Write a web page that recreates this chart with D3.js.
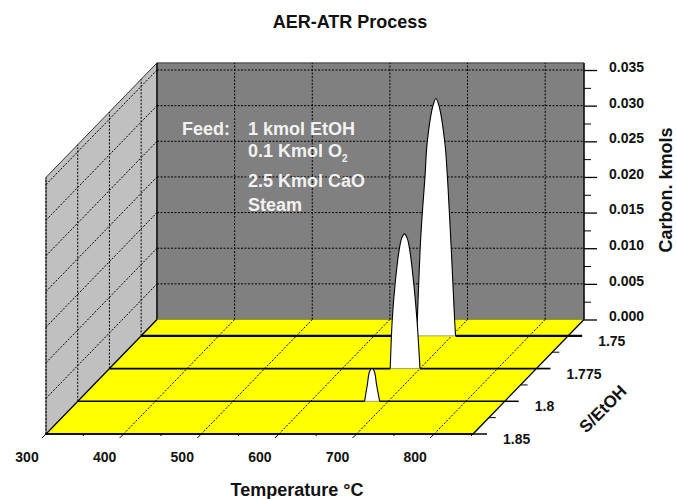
<!DOCTYPE html>
<html>
<head>
<meta charset="utf-8">
<script src="https://cdn.jsdelivr.net/npm/d3@7"></script>
<style>
body { margin: 0; background: #fff; }
text { font-family: "Liberation Sans", Arial, sans-serif; font-weight: bold; fill: #111; }
</style>
</head>
<body>
<script>
// data
const rows = ["1.85", "1.8", "1.775", "1.75"];
const tempTicks = [300, 400, 500, 600, 700, 800];
const tempMinor = [350, 450, 550, 650, 750, 850];
const carbonTicks = [0, 0.005, 0.01, 0.015, 0.02, 0.025, 0.03, 0.035];
const carbonMinor = [0.0025, 0.0075, 0.0125, 0.0175, 0.0225, 0.0275, 0.0325];

const temps175 = [300, 654.8, 655.7, 659.4, 662.2, 665.6, 668.6, 675.9, 679.7, 683.6, 691, 694.5, 697, 699.4, 703.8, 705, 850];
const carbon175 = [0, 0, 0.0022, 0.0123, 0.0173, 0.0223, 0.0273, 0.0323, 0.0333, 0.0323, 0.0273, 0.0223, 0.0173, 0.0123, 0.0022, 0, 0];

const temps1775 = [300, 661.7, 664.3, 668, 673, 676.5, 680, 683.5, 687, 692, 696.1, 700, 850];
const carbon1775 = [0, 0, 0.0069, 0.0119, 0.0165, 0.0183, 0.0189, 0.0183, 0.0165, 0.0119, 0.0069, 0, 0];

const temps18 = [300, 669.5, 673, 676, 679, 682, 685, 688.9, 850];
const carbon18 = [0, 0, 0.0023, 0.0042, 0.0046, 0.0042, 0.0023, 0, 0];

const temps185 = [300, 850];
const carbon185 = [0, 0];

const series = [
  { row: 3, t: temps175, c: carbon175, w: 2.2 },
  { row: 2, t: temps1775, c: carbon1775, w: 1.7 },
  { row: 1, t: temps18, c: carbon18, w: 1.5 },
  { row: 0, t: temps185, c: carbon185, w: 1.5 }
];

const svg = d3.select("body").append("svg").attr("width", 676).attr("height", 499);

const x = d3.scaleLinear().domain([300, 850]).range([46, 473]);
const y = d3.scaleLinear().domain([0, 0.036]).range([434, 177.4]);
const depthX = d3.scaleLinear().domain([0, 3.5]).range([0, 111]);
const depthY = d3.scaleLinear().domain([0, 3.5]).range([0, -114.5]);

const px = (t, r) => x(t) + depthX(r);
const py = (v, r) => y(v) + depthY(r);
const tmin = 300, tmax = 850, cmax = 0.036, rmax = 3.5;

const poly = pts => "M" + pts.map(p => p.join(",")).join("L") + "Z";

// walls and floor
svg.append("path")
  .attr("d", poly([[px(tmin, 0), py(0, 0)], [px(tmin, rmax), py(0, rmax)], [px(tmin, rmax), py(cmax, rmax)], [px(tmin, 0), py(cmax, 0)]]))
  .style("fill", "#c0c0c0").style("stroke", "#333").style("stroke-width", 1);
svg.append("path")
  .attr("d", poly([[px(tmin, rmax), py(0, rmax)], [px(tmax, rmax), py(0, rmax)], [px(tmax, rmax), py(cmax, rmax)], [px(tmin, rmax), py(cmax, rmax)]]))
  .style("fill", "#808080").style("stroke", "#333").style("stroke-width", 1);
svg.append("path")
  .attr("d", poly([[px(tmin, 0), py(0, 0)], [px(tmax, 0), py(0, 0)], [px(tmax, rmax), py(0, rmax)], [px(tmin, rmax), py(0, rmax)]]))
  .style("fill", "#ffff00");

// dashed grid
const grid = svg.append("g").style("stroke", "#000").style("stroke-width", 1).style("stroke-dasharray", "2,1.5").style("fill", "none");
const seg = (a, b) => grid.append("line").attr("x1", a[0]).attr("y1", a[1]).attr("x2", b[0]).attr("y2", b[1]);

tempTicks.slice(1).forEach(t => {
  seg([px(t, 0), py(0, 0)], [px(t, rmax), py(0, rmax)]);
  seg([px(t, rmax), py(0, rmax)], [px(t, rmax), py(cmax, rmax)]);
});
carbonTicks.slice(1).forEach(c => {
  seg([px(tmin, 0), py(c, 0)], [px(tmin, rmax), py(c, rmax)]);
  seg([px(tmin, rmax), py(c, rmax)], [px(tmax, rmax), py(c, rmax)]);
});
rows.forEach((r, i) => {
  seg([px(tmin, i), py(0, i)], [px(tmin, i), py(cmax, i)]);
});

// back to front so the nearer peaks cover the far ones
series.forEach(s => {
  const pts = s.t.map((t, i) => [px(t, s.row), py(s.c[i], s.row)]);
  const g = svg.append("g");
  const line = d3.line().curve(d3.curveCatmullRom.alpha(0.5));
  // flat ends are straight, only the peak itself gets the curve
  const peak = pts.slice(1, pts.length - 1);
  if (peak.length) {
    g.append("path").attr("d", line(peak) + "Z").style("fill", "#fff").style("stroke", "none");
    g.append("path").attr("d", line(peak)).style("fill", "none").style("stroke", "#000").style("stroke-width", 1.1);
    g.append("line")
      .attr("x1", peak[0][0]).attr("y1", peak[0][1]).attr("x2", peak[peak.length - 1][0]).attr("y2", peak[0][1])
      .style("stroke", "#777").style("stroke-width", 0.7);
    g.append("line")
      .attr("x1", pts[0][0]).attr("y1", pts[0][1]).attr("x2", peak[0][0]).attr("y2", peak[0][1])
      .style("stroke", "#000").style("stroke-width", s.w);
    g.append("line")
      .attr("x1", peak[peak.length - 1][0]).attr("y1", peak[0][1]).attr("x2", pts[pts.length - 1][0]).attr("y2", peak[0][1])
      .style("stroke", "#000").style("stroke-width", s.w);
  } else {
    g.append("path").attr("d", d3.line()(pts)).style("fill", "none").style("stroke", "#000").style("stroke-width", s.w);
  }
  // row tick runs on past the floor
  g.append("line")
    .attr("x1", px(tmax, s.row)).attr("y1", py(0, s.row))
    .attr("x2", px(tmax, s.row) + 14).attr("y2", py(0, s.row))
    .style("stroke", "#000").style("stroke-width", s.w);
  g.append("text")
    .attr("x", px(tmax, s.row) + 30).attr("y", py(0, s.row) + 10)
    .style("font-size", "14px")
    .text(rows[s.row]);
});

// floor edges
svg.append("path")
  .attr("d", "M" + [px(tmin, rmax), py(0, rmax)] + "L" + [px(tmin, 0), py(0, 0)] + "L" + [px(tmax, 0), py(0, 0)] + "L" + [px(tmax, rmax), py(0, rmax)])
  .style("fill", "none").style("stroke", "#000").style("stroke-width", 1.3);
svg.append("line")
  .attr("x1", px(tmin, rmax)).attr("y1", py(0, rmax)).attr("x2", px(tmin, rmax)).attr("y2", py(cmax, rmax))
  .style("stroke", "#000").style("stroke-width", 1);

// minor ticks on the depth axis
[0.5, 1.5, 2.5].forEach(r => {
  svg.append("line")
    .attr("x1", px(tmax, r)).attr("y1", py(0, r)).attr("x2", px(tmax, r) + 7).attr("y2", py(0, r))
    .style("stroke", "#000");
});

// temperature ticks are slanted along the depth direction
tempTicks.forEach(t => {
  svg.append("line")
    .attr("x1", x(t)).attr("y1", y(0)).attr("x2", x(t) - 4).attr("y2", y(0) + 4)
    .style("stroke", "#000");
  svg.append("text")
    .attr("x", x(t) - 19).attr("y", 462)
    .attr("text-anchor", "middle")
    .style("font-size", "14px")
    .text(t);
});
tempMinor.forEach(t => {
  svg.append("line")
    .attr("x1", x(t)).attr("y1", y(0)).attr("x2", x(t) - 2).attr("y2", y(0) + 2)
    .style("stroke", "#000");
});

// carbon axis on the back wall
const yBack = d3.scaleLinear().domain(y.domain()).range(y.range().map(v => v + depthY(rmax)));
const yAxis = svg.append("g").attr("transform", `translate(${px(tmax, rmax)},0)`)
  .call(d3.axisRight(yBack).tickValues(carbonTicks).tickFormat(d3.format(".3f")).tickSize(13).tickPadding(12));
yAxis.select(".domain").remove();
yAxis.selectAll("text").attr("dy", "0.1em").style("font-size", "14px").style("font-family", null);
yAxis.selectAll("line").style("stroke-width", 1.3);
const yMinor = svg.append("g").attr("transform", `translate(${px(tmax, rmax)},0)`)
  .call(d3.axisRight(yBack).tickValues(carbonMinor).tickFormat("").tickSize(7));
yMinor.select(".domain").remove();
svg.append("line")
  .attr("x1", px(tmax, rmax)).attr("y1", py(0, rmax)).attr("x2", px(tmax, rmax)).attr("y2", py(cmax, rmax))
  .style("stroke", "#000").style("stroke-width", 1.2);

// titles
const label = (tx, ty, txt, size, rot) => svg.append("text")
  .attr("transform", `translate(${tx},${ty}) rotate(${rot || 0})`)
  .attr("text-anchor", "middle")
  .style("font-size", size + "px")
  .text(txt);
label(350, 28, "AER-ATR Process", 18);
label(297, 496, "Temperature °C", 18);
label(672, 190, "Carbon. kmols", 18, -90);
label(607, 413, "S/EtOH", 17, -45);

// note on the back wall
const note = (tx, ty, txt) => svg.append("text").attr("x", tx).attr("y", ty)
  .style("font-size", "18px").style("fill", "#f2f2f2").text(txt);
note(182, 135, "Feed:");
note(248, 135, "1 kmol EtOH");
const o2 = note(248, 157, "0.1 Kmol O");
o2.append("tspan").attr("dy", 5).style("font-size", "10px").text("2");
note(248, 187, "2.5 Kmol CaO");
note(248, 211, "Steam");
</script>
</body>
</html>
